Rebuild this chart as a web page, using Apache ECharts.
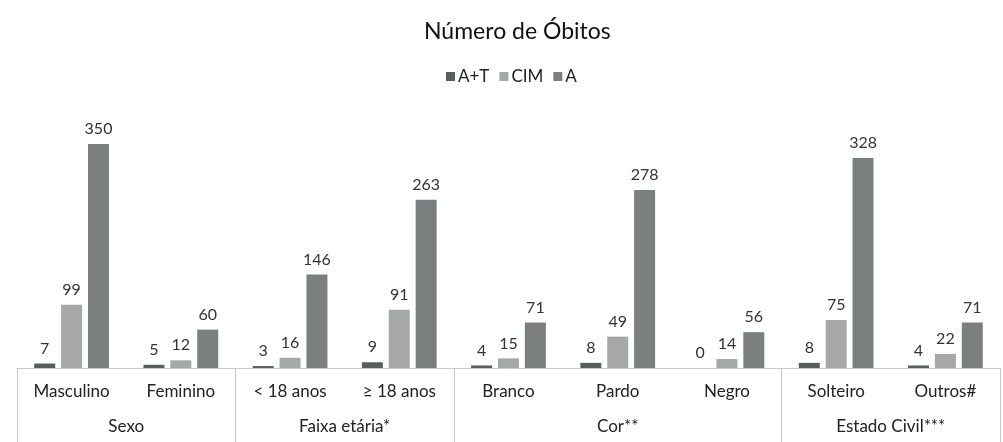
<!DOCTYPE html>
<html><head><meta charset="utf-8">
<script src="https://cdn.jsdelivr.net/npm/echarts@6/dist/echarts.min.js"></script>
<style>html,body{margin:0;padding:0;background:#fff}#c{width:1003px;height:442px}</style>
</head><body><div id="c"></div>
<script>
const categories = ['Masculino','Feminino','< 18 anos','\u2265 18 anos','Branco','Pardo','Negro','Solteiro','Outros#'];
const groups = ['Sexo','Faixa etária*','Cor**','Estado Civil***'];
const groupSizes = [2,2,3,2];
const seriesNames = ['A+T','CIM','A'];
const valuesAT = [7,5,3,9,4,8,0,8,4];
const valuesCIM = [99,12,16,91,15,49,14,75,22];
const valuesA = [350,60,146,263,71,278,56,328,71];

// build half-category positions for the group axis
const halfCount = categories.length * 2;
const groupAxisData = [];
const tickIdx = [0];
const labelAt = {};
let pos = 0;
groupSizes.forEach((n, i) => {
  labelAt[pos + n] = groups[i];
  pos += n * 2;
  tickIdx.push(pos);
});
for (let i = 0; i <= halfCount; i++) groupAxisData.push(labelAt[i] || '');

const font = 'Lato, "Open Sans", sans-serif';
const chart = echarts.init(document.getElementById('c'));
const colors = ['#5b5c5c', '#a6a8a8', '#7c7f80'];
chart.setOption({
  animation: false,
  color: colors,
  textStyle: { fontFamily: font },
  title: {
    text: 'Número de Óbitos', left: 419, top: 15,
    textStyle: { fontSize: 23, fontWeight: 'normal', color: '#111', fontFamily: font }
  },
  legend: {
    data: seriesNames, top: 63, left: 441, icon: 'rect',
    itemWidth: 9, itemHeight: 9, itemGap: 10,
    textStyle: { fontSize: 17, color: '#222', fontFamily: font, padding: [0,0,0,-2] }
  },
  grid: { left: 17, right: 0, top: 112, bottom: 74, containLabel: false },
  xAxis: [
    {
      type: 'category', data: categories, position: 'bottom',
      axisLine: { lineStyle: { color: '#c8c8c8', width: 1 } },
      axisTick: { show: false },
      axisLabel: { fontSize: 17, color: '#222', margin: 15, interval: 0, fontFamily: font }
    },
    {
      type: 'category', data: groupAxisData, position: 'bottom', boundaryGap: false,
      axisLine: { show: false },
      axisTick: { show: true, length: 74, interval: (i) => tickIdx.includes(i), lineStyle: { color: '#c8c8c8' } },
      axisLabel: { fontSize: 17, color: '#222', margin: 50, interval: 0, fontFamily: font }
    }
  ],
  yAxis: { type: 'value', min: 0, max: 400, show: false, splitLine: { show: false } },
  series: [valuesAT, valuesCIM, valuesA].map((d, i) => ({
    name: seriesNames[i], type: 'bar', data: d, xAxisIndex: 0,
    barWidth: 21, barGap: '28%',
    label: { show: true, position: 'top', distance: 7, fontSize: 16, color: '#333', fontFamily: font }
  }))
});
</script></body></html>
